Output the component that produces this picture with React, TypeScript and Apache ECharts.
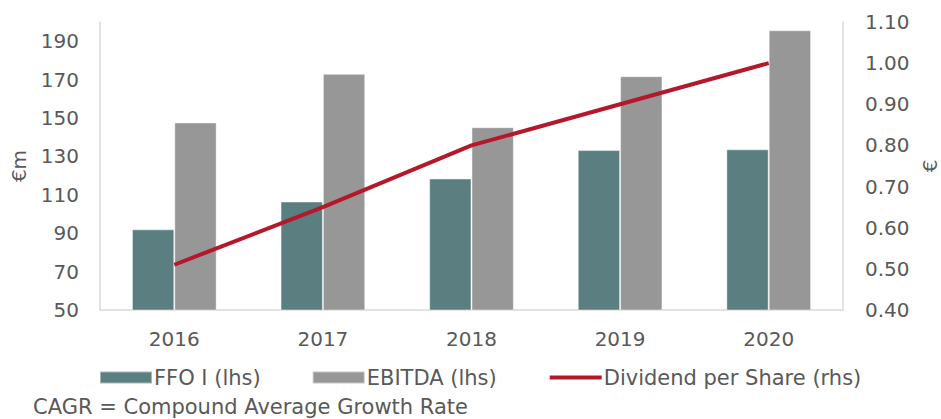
import React, { useEffect, useRef } from "react";
import * as echarts from "echarts";

const categories = ["2016", "2017", "2018", "2019", "2020"];
const ffoValues = [92, 106.5, 118.5, 133.3, 133.7];
const ebitdaValues = [147.7, 173, 145.2, 171.8, 195.7];
const dividendValues = [0.51, 0.65, 0.8, 0.9, 1.0];

const TEXT = "#595959";
const FONT = "DejaVu Sans";

export default function App() {
  const ref = useRef<HTMLDivElement>(null);
  useEffect(() => {
    if (!ref.current) return;
    const chart = echarts.init(ref.current, null, { renderer: "svg" });
    chart.setOption({
      animation: false,
      textStyle: { fontFamily: FONT, color: TEXT },
      grid: { left: 100, right: 98, top: 22, bottom: 109, containLabel: false, outerBoundsMode: "none" },
      legend: {
        left: 99,
        top: 367,
        padding: 0,
        itemWidth: 52,
        itemHeight: 12,
        itemGap: 51,
        textStyle: { fontFamily: FONT, fontSize: 21, color: TEXT, padding: [0, 0, 0, -3] },
        data: [
          { name: "FFO I (lhs)", icon: "rect" },
          { name: "EBITDA (lhs)", icon: "rect" },
          {
            name: "Dividend per Share (rhs)",
            lineStyle: { width: 4, color: "#B5172B" },
            itemStyle: { color: "rgba(0,0,0,0)", borderWidth: 0, opacity: 0 },
          },
        ],
      },
      xAxis: {
        type: "category",
        data: categories,
        axisLine: { lineStyle: { color: "#D9D9D9", width: 1.5 } },
        axisTick: { show: false },
        axisLabel: { fontFamily: FONT, fontSize: 20, color: TEXT, margin: 19 },
      },
      yAxis: [
        {
          type: "value",
          min: 50,
          max: 200,
          interval: 20,
          name: "€m",
          nameLocation: "middle",
          nameRotate: 90,
          nameGap: 71,
          nameTextStyle: { fontFamily: FONT, fontSize: 20, color: TEXT },
          axisLine: { show: true, lineStyle: { color: "#D9D9D9", width: 1.5 } },
          axisTick: { show: false },
          splitLine: { show: false },
          axisLabel: { fontFamily: FONT, fontSize: 20, color: TEXT, margin: 21, showMaxLabel: false },
        },
        {
          type: "value",
          min: 0.4,
          max: 1.1,
          interval: 0.1,
          name: "€",
          nameLocation: "middle",
          nameRotate: 90,
          nameGap: 77,
          nameTextStyle: { fontFamily: FONT, fontSize: 20, color: TEXT },
          axisLine: { show: true, lineStyle: { color: "#D9D9D9", width: 1.5 } },
          axisTick: { show: false },
          splitLine: { show: false },
          axisLabel: {
            fontFamily: FONT,
            fontSize: 20,
            color: TEXT,
            margin: 22,
            formatter: (v: number) => v.toFixed(2),
          },
        },
      ],
      series: [
        {
          name: "FFO I (lhs)",
          type: "bar",
          data: ffoValues,
          yAxisIndex: 0,
          barGap: "0%",
          barCategoryGap: "43%",
          itemStyle: { color: "#5B7F80", borderColor: "rgba(255,255,255,0.45)", borderWidth: 1 },
        },
        {
          name: "EBITDA (lhs)",
          type: "bar",
          data: ebitdaValues,
          yAxisIndex: 0,
          barGap: "0%",
          barCategoryGap: "43%",
          itemStyle: { color: "#979797", borderColor: "rgba(255,255,255,0.45)", borderWidth: 1 },
        },
        {
          name: "Dividend per Share (rhs)",
          type: "line",
          data: dividendValues,
          yAxisIndex: 1,
          symbol: "none",
          lineStyle: { color: "#B5172B", width: 4 },
          itemStyle: { color: "#B5172B" },
        },
      ],
      graphic: [
        {
          type: "text",
          left: 33,
          top: 396,
          style: { text: "CAGR = Compound Average Growth Rate", fontFamily: FONT, fontSize: 21, fill: TEXT },
        },
      ],
    });
    return () => chart.dispose();
  }, []);
  return (
    <div
      ref={ref}
      style={{ position: "absolute", left: 0, top: 0, width: 941, height: 419, background: "#fff" }}
    />
  );
}
